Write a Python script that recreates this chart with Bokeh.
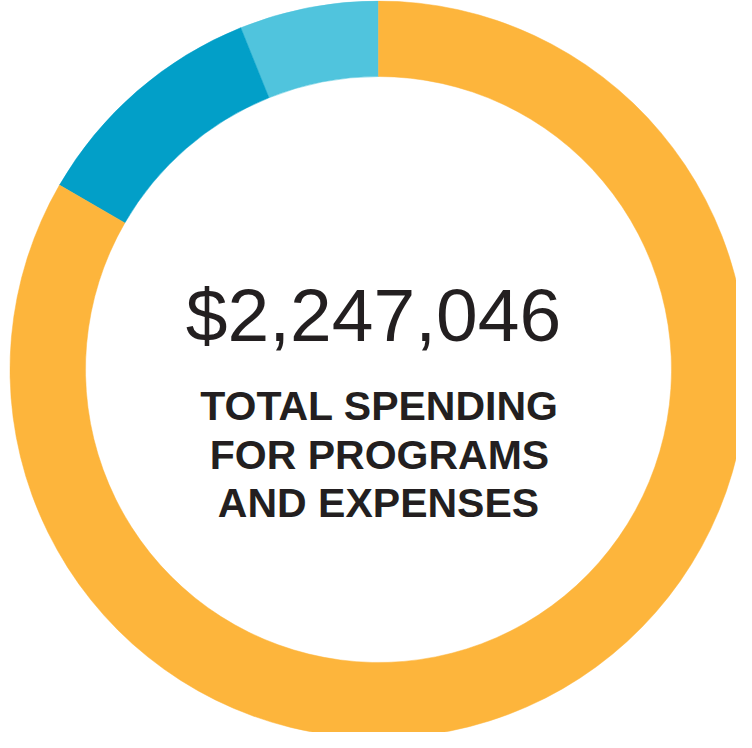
from bokeh.plotting import figure
from bokeh.models import Range1d, ColumnDataSource
from bokeh.core.properties import value
from bokeh.embed import file_html
from bokeh.resources import INLINE
import math

# Data
categories = ["Contractual & other expenses", "Operating expenses", "Programs"]
spending = [137_046, 237_300, 1_872_700]
colors = ["#50C4DD", "#029FC8", "#FDB53C"]
total_label = "$2,247,046"
subtitle_lines = ["TOTAL SPENDING", "FOR PROGRAMS", "AND EXPENSES"]

total = sum(spending)
starts, ends = [], []
acc = math.pi / 2
for v in spending:
    starts.append(acc)
    acc += 2 * math.pi * v / total
    ends.append(acc)

src = ColumnDataSource(dict(cat=categories, val=spending, start=starts, end=ends, color=colors))

W, H = 736, 732
p = figure(width=W, height=H, output_backend="svg", toolbar_location=None,
           x_range=Range1d(8, 8 + W), y_range=Range1d(8, 8 + H),
           min_border=0, outline_line_color=None, background_fill_color="white")
p.axis.visible = False
p.grid.visible = False

cx, cy = 386, 371
p.annular_wedge(x=cx, y=cy, inner_radius=293, outer_radius=368.5,
                start_angle="start", end_angle="end", fill_color="color",
                line_color="color", line_width=0.5, source=src)

p.text(x=[381], y=[426], text=[total_label], text_align="center",
       text_baseline="alphabetic", text_font=value("Liberation Sans"),
       text_font_size="75px", text_color="#231F20")

p.text(x=[387, 387, 386], y=[335, 286, 238], text=subtitle_lines, text_align="center",
       text_baseline="alphabetic", text_font=value("Liberation Sans"),
       text_font_style="bold", text_font_size="41px", text_color="#231F20")

open("out.html", "w").write(file_html(p, INLINE))
